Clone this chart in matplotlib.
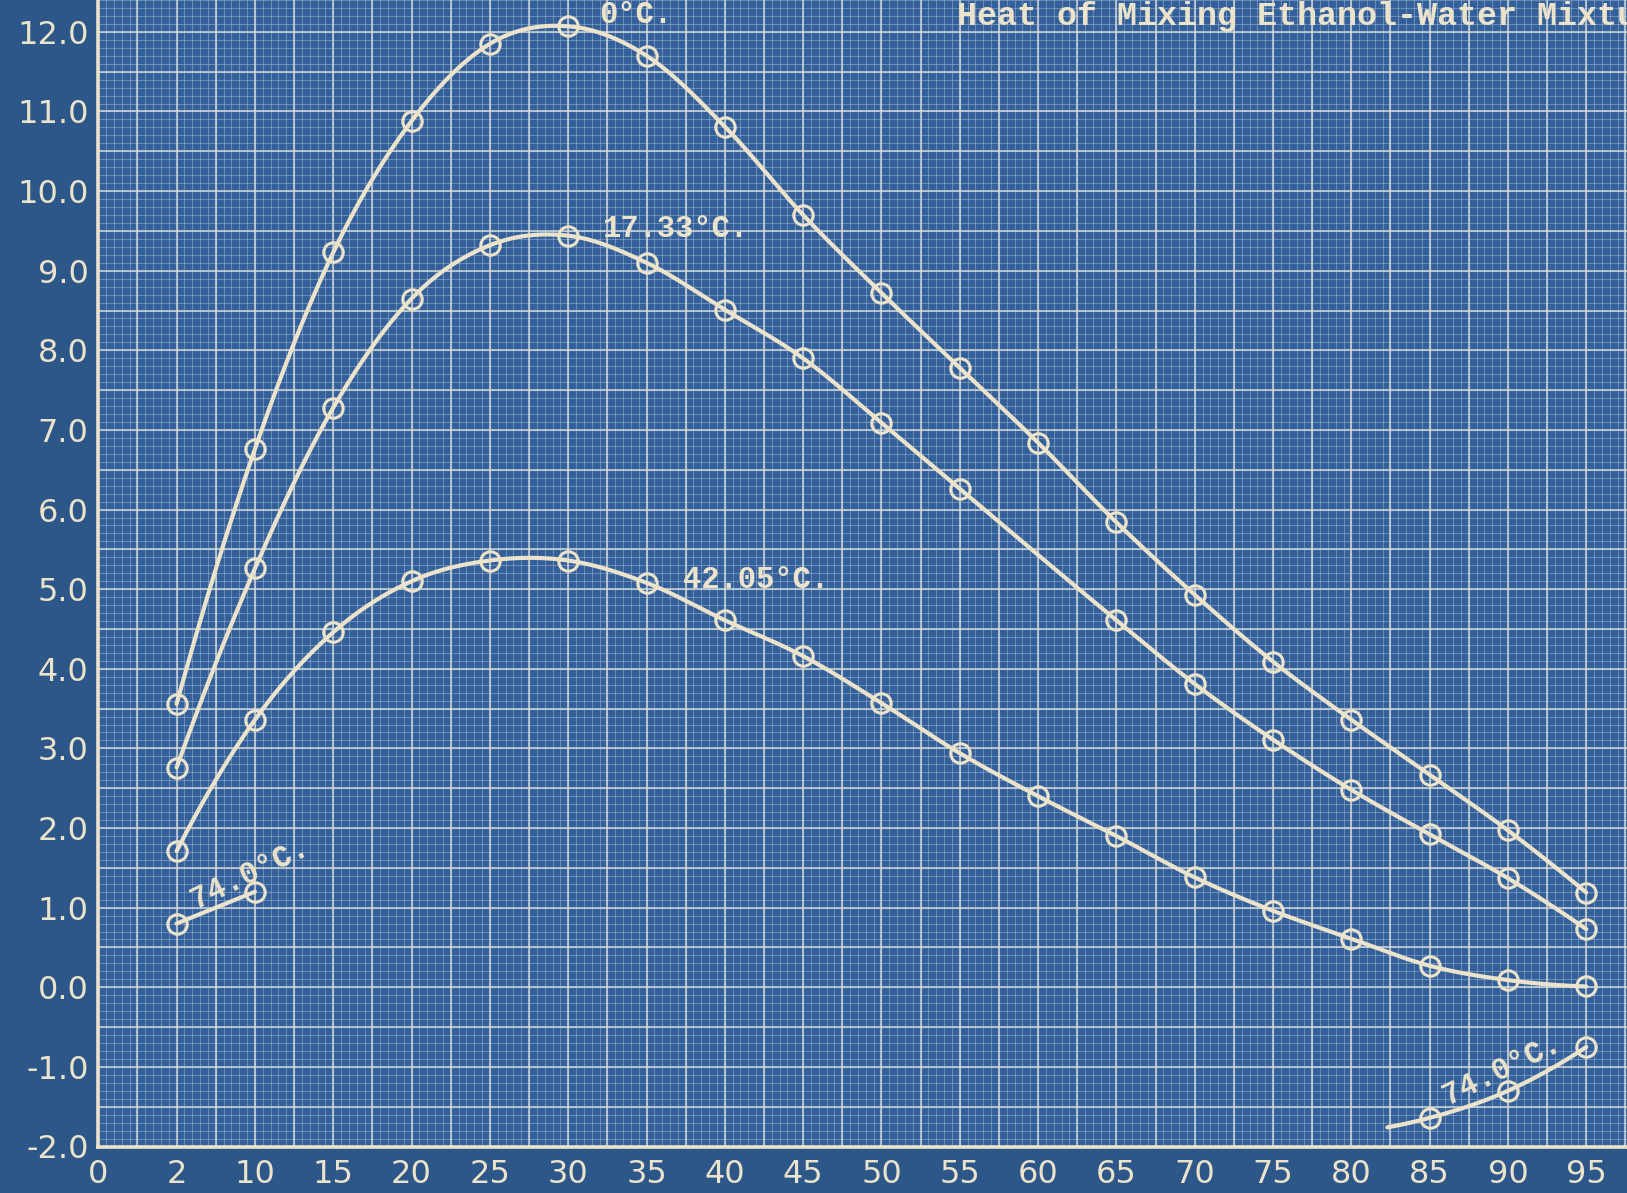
import numpy as np
import matplotlib
matplotlib.use("Agg")
import matplotlib.pyplot as plt

# ---- data -------------------------------------------------------------
# axis tick labels (per cent ethanol) and where they sit on the paper
tick_labels = ["0", "2", "10", "15", "20", "25", "30", "35", "40", "45",
               "50", "55", "60", "65", "70", "75", "80", "85", "90", "95"]
tick_values = [0, 2, 10, 15, 20, 25, 30, 35, 40, 45,
               50, 55, 60, 65, 70, 75, 80, 85, 90, 95]

pct_all = [2, 10, 15, 20, 25, 30, 35, 40, 45, 50, 55, 60, 65, 70, 75, 80, 85, 90, 95]

heat_0 = [3.56, 6.76, 9.23, 10.88, 11.85, 12.07, 11.70, 10.81, 9.70, 8.72,
          7.78, 6.84, 5.84, 4.93, 4.09, 3.36, 2.67, 1.97, 1.19]

pct_17 = [2, 10, 15, 20, 25, 30, 35, 40, 45, 50, 55, 65, 70, 75, 80, 85, 90, 95]
heat_17 = [2.76, 5.26, 7.28, 8.65, 9.32, 9.44, 9.10, 8.51, 7.90, 7.09,
           6.26, 4.61, 3.81, 3.11, 2.48, 1.92, 1.37, 0.73]

heat_42 = [1.71, 3.36, 4.46, 5.10, 5.36, 5.36, 5.08, 4.61, 4.16, 3.57,
           2.94, 2.40, 1.90, 1.38, 0.96, 0.61, 0.27, 0.09, 0.01]

pct_74_low = [2, 10]
heat_74_low = [0.80, 1.20]

pct_74_high = [82.3, 85, 90, 95]          # first entry: free end of the drawn line
heat_74_high = [-1.76, -1.64, -1.30, -0.75]

y_ticks = [-2, -1, 0, 1, 2, 3, 4, 5, 6, 7, 8, 9, 10, 11, 12]

# ---- style ------------------------------------------------------------
PAPER = "#2d5789"
CELL = "#33609a"
INK = "#ebe3cb"

W, H = 1627, 1193
fig = plt.figure(figsize=(W / 100, H / 100), dpi=100, facecolor=PAPER)
left_px, bottom_px = 98.3, 1146.5
ax = fig.add_axes([left_px / W, 1 - bottom_px / H, 1 - left_px / W, bottom_px / H])
ax.set_facecolor(CELL)
ax.set_xlim(0, 97.6)
ax.set_ylim(-2, 12.4)

tick_pos = np.arange(len(tick_labels)) * 5.0


def to_axis(v):
    """Place a composition value on the paper's horizontal scale."""
    return np.interp(v, tick_values, tick_pos)


# graph-paper ruling: fine lines and heavier lines every fifth
fine_x = np.arange(0, 98, 0.5)
fine_y = np.arange(-2, 12.5, 0.1)
ax.vlines(fine_x, -2, 12.4, colors="#c3d0e2", linewidth=0.8, alpha=0.38, zorder=1)
ax.hlines(fine_y, 0, 97.6, colors="#c3d0e2", linewidth=0.8, alpha=0.38, zorder=1)
bold_x = np.arange(0, 98, 2.5)
bold_y = np.arange(-2, 12.5, 0.5)
ax.vlines(bold_x, -2, 12.4, colors="#dde0dc", linewidth=1.5, alpha=0.7, zorder=2)
ax.hlines(bold_y, 0, 97.6, colors="#dde0dc", linewidth=1.5, alpha=0.7, zorder=2)


def smooth(x, y, n=40):
    x = np.asarray(x, float)
    y = np.asarray(y, float)
    if len(x) < 3:
        return x, y
    m = np.gradient(y, x, edge_order=2)
    xs, ys = [], []
    for i in range(len(x) - 1):
        h = x[i + 1] - x[i]
        t = np.linspace(0, 1, n, endpoint=False)
        h00 = 2 * t**3 - 3 * t**2 + 1
        h10 = t**3 - 2 * t**2 + t
        h01 = -2 * t**3 + 3 * t**2
        h11 = t**3 - t**2
        xs.append(x[i] + t * h)
        ys.append(h00 * y[i] + h10 * h * m[i] + h01 * y[i + 1] + h11 * h * m[i + 1])
    xs.append([x[-1]])
    ys.append([y[-1]])
    return np.concatenate(xs), np.concatenate(ys)


line_kw = dict(color=INK, linewidth=3.0, solid_capstyle="round", zorder=4)
mark_kw = dict(linestyle="none", marker="o", markersize=14, markeredgewidth=2.2,
               markeredgecolor=INK, markerfacecolor="none", zorder=5)

series = [
    (pct_all, heat_0, None),
    (pct_17, heat_17, None),
    (pct_all, heat_42, None),
    (pct_74_low, heat_74_low, None),
    (pct_74_high, heat_74_high, slice(1, None)),
]
for px, hy, marked in series:
    xa = to_axis(px)
    sx, sy = smooth(xa, hy)
    ax.plot(sx, sy, **line_kw)
    sel = marked if marked is not None else slice(None)
    ax.plot(xa[sel], np.asarray(hy)[sel], **mark_kw)

# typed labels
mono = dict(family=["Liberation Mono", "DejaVu Sans Mono"], color=INK,
            fontweight="bold", zorder=6)
ax.text(32.0, 12.21, "0°C.", ha="left", va="center", fontsize=22, **mono)
ax.text(32.2, 9.53, "17.33°C.", ha="left", va="center", fontsize=22, **mono)
ax.text(37.3, 5.11, "42.05°C.", ha="left", va="center", fontsize=22, **mono)
ax.text(9.7, 1.42, "74.0°C.", ha="center", va="center", fontsize=22,
        rotation=26, rotation_mode="anchor", **mono)
ax.text(89.6, -1.04, "74.0°C.", ha="center", va="center", fontsize=22,
        rotation=26, rotation_mode="anchor", **mono)
ax.text(54.8, 12.19, "Heat of Mixing Ethanol-Water Mixtures", ha="left",
        va="center", fontsize=24, **mono)

# axes frame and tick labels
for side in ("top", "right"):
    ax.spines[side].set_visible(False)
for side in ("left", "bottom"):
    ax.spines[side].set_color(INK)
    ax.spines[side].set_linewidth(2.6)
    ax.spines[side].set_zorder(7)

ax.set_xticks(tick_pos)
ax.set_xticklabels(tick_labels)
ax.set_yticks(y_ticks)
ax.set_yticklabels([f"{v:.1f}" for v in y_ticks])
ax.tick_params(axis="both", length=0, colors=INK, labelsize=23)
ax.tick_params(axis="x", pad=9)
ax.tick_params(axis="y", pad=7)
for lab in ax.get_xticklabels() + ax.get_yticklabels():
    lab.set_family(["DejaVu Sans"])

fig.savefig("out.png", dpi=100, facecolor=PAPER)
